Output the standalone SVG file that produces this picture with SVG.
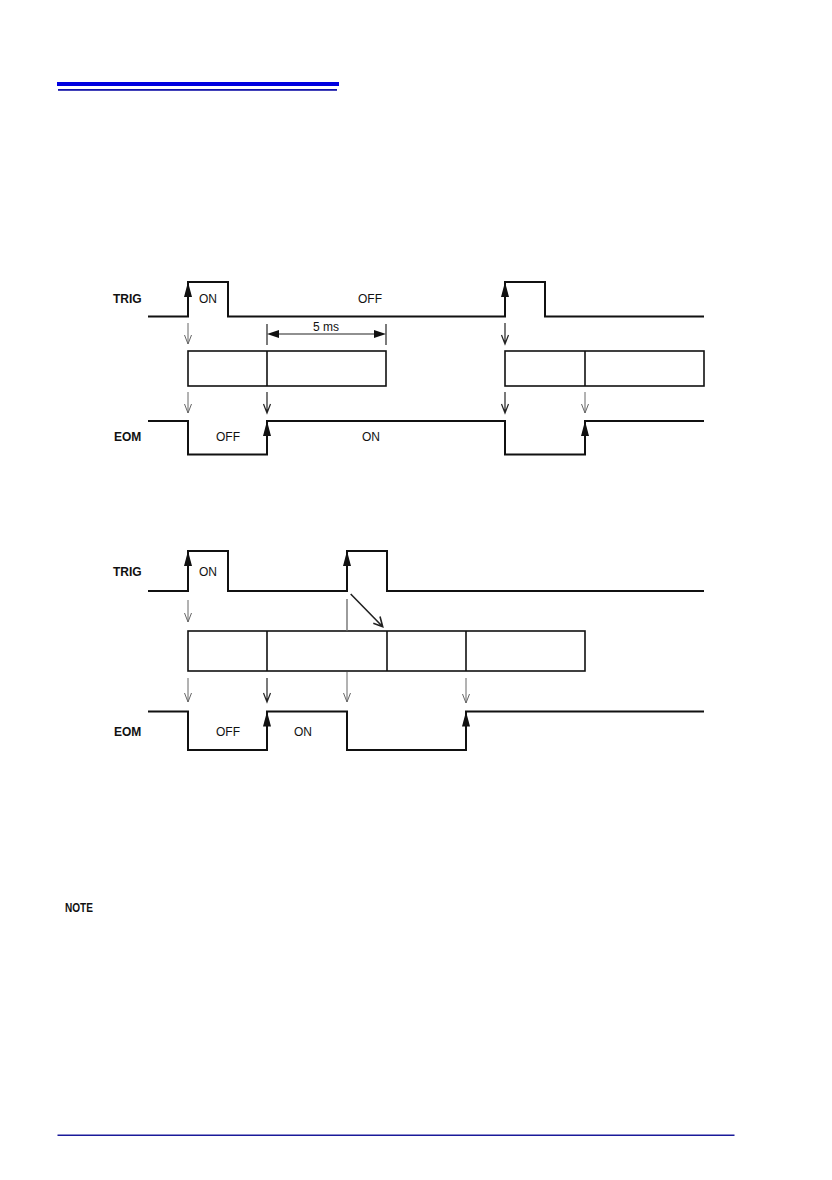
<svg xmlns="http://www.w3.org/2000/svg" width="832" height="1180" viewBox="0 0 832 1180">
<style>
.sig{fill:none;stroke:#111;stroke-width:2;stroke-linejoin:miter}
.box{fill:none;stroke:#111;stroke-width:1.6}
.thin{fill:none;stroke:#666;stroke-width:1}
.dark{fill:none;stroke:#222;stroke-width:1.2}
.head{fill:#111;stroke:none}
.lbl{font-family:"Liberation Sans",Arial,sans-serif;font-size:12px;font-weight:bold;fill:#111}
.txt{font-family:"Liberation Sans",Arial,sans-serif;font-size:12px;fill:#111}
</style>
<rect width="832" height="1180" fill="#fff"/>
<g id="header">
<rect x="57" y="82" width="282" height="4" fill="#0000e0"/>
<rect x="58" y="89" width="279" height="1.8" fill="#1414a8"/>
</g>

<g id="top-diagram">
<g id="top-labels">
<text class="lbl" x="113" y="303">TRIG</text>
<text class="lbl" x="114" y="441">EOM</text>
<text class="txt" x="199" y="302.5">ON</text>
<text class="txt" x="358" y="302.5">OFF</text>
<text class="txt" x="313" y="331">5 ms</text>
<text class="txt" x="216" y="441">OFF</text>
<text class="txt" x="362" y="441">ON</text>
</g>
<g id="top-trig">
<path class="sig" d="M148,316.5 H188 V282 H228 V316.5 H505 V282 H545 V316.5 H704"/>
</g>
<g id="top-boxes">
<rect class="box" x="188" y="351" width="198" height="35"/>
<line class="box" x1="267" y1="351" x2="267" y2="386"/>
<rect class="box" x="505" y="351" width="199" height="35"/>
<line class="box" x1="585" y1="351" x2="585" y2="386"/>
</g>
<g id="top-eom">
<path class="sig" d="M148,421 H188 V454.5 H267 V421 H505 V454.5 H585 V421 H704"/>
</g>
</g>

<g id="bottom-diagram">
<g id="bottom-labels">
<text class="lbl" x="113" y="575.5">TRIG</text>
<text class="lbl" x="114" y="735.5">EOM</text>
<text class="txt" x="199" y="576">ON</text>
<text class="txt" x="216" y="736">OFF</text>
<text class="txt" x="294" y="736">ON</text>
</g>
<g id="bottom-trig">
<path class="sig" d="M148,591 H188 V551 H228 V591 H347 V551 H387 V591 H704"/>
</g>
<g id="bottom-boxes">
<rect class="box" x="188" y="631" width="397" height="40"/>
<line class="box" x1="267" y1="631" x2="267" y2="671"/>
<line class="box" x1="387" y1="631" x2="387" y2="671"/>
<line class="box" x1="466" y1="631" x2="466" y2="671"/>
</g>
<g id="bottom-eom">
<path class="sig" d="M148,711.5 H188 V750 H267 V711.5 H347 V750 H466 V711.5 H704"/>
</g>
</g>

<g id="connectors">
<polygon class="head" points="188,282 184,297 192,297"/>
<polygon class="head" points="505,282 501,297 509,297"/>
<polygon class="head" points="267,421 263,436 271,436"/>
<polygon class="head" points="585,421 581,436 589,436"/>
<polygon class="head" points="188,551 184,566 192,566"/>
<polygon class="head" points="347,551 343,566 351,566"/>
<polygon class="head" points="267,711.5 263,726.5 271,726.5"/>
<polygon class="head" points="466,711.5 462,726.5 470,726.5"/>
<line class="dark" x1="267" y1="324" x2="267" y2="345"/>
<line class="dark" x1="386" y1="324" x2="386" y2="345"/>
<line class="dark" x1="278" y1="334" x2="375" y2="334"/>
<polygon class="head" points="267,334 279,330 279,338"/>
<polygon class="head" points="386,334 374,330 374,338"/>
<path class="thin" d="M188,323 V344 M184.5,335 L188,344 L191.5,335"/>
<path class="thin" d="M188,392 V413 M184.5,404 L188,413 L191.5,404"/>
<path class="dark" d="M267,392 V413 M263.5,404 L267,413 L270.5,404"/>
<path class="dark" d="M505,323 V344 M501.5,335 L505,344 L508.5,335"/>
<path class="dark" d="M505,392 V413 M501.5,404 L505,413 L508.5,404"/>
<path class="thin" d="M585,392 V413 M581.5,404 L585,413 L588.5,404"/>
<path class="thin" d="M188,600 V622 M184.5,613 L188,622 L191.5,613"/>
<line class="thin" x1="347" y1="599" x2="347" y2="631" style="stroke-width:1.3"/>
<path class="dark" d="M350.7,594 L382.7,626.7 M373.3,623.3 L382.7,626.7 L380,616.5" style="stroke-width:1.6"/>
<path class="thin" d="M188,678 V702 M184.5,693 L188,702 L191.5,693"/>
<path class="dark" d="M267,678 V702 M263.5,693 L267,702 L270.5,693"/>
<path class="thin" d="M347,672 V702 M343.5,693 L347,702 L350.5,693"/>
<path class="thin" d="M466,678 V703 M462.5,694 L466,703 L469.5,694"/>
</g>

<g id="note">
<text x="65" y="912" font-family="'Liberation Sans Narrow','Liberation Sans',Arial,sans-serif" font-size="13" font-weight="bold" fill="#111" textLength="28" lengthAdjust="spacingAndGlyphs">NOTE</text>
</g>
<g id="footer">
<rect x="57.5" y="1134.5" width="677" height="1.5" fill="#1a1a9a"/>
</g>
</svg>
